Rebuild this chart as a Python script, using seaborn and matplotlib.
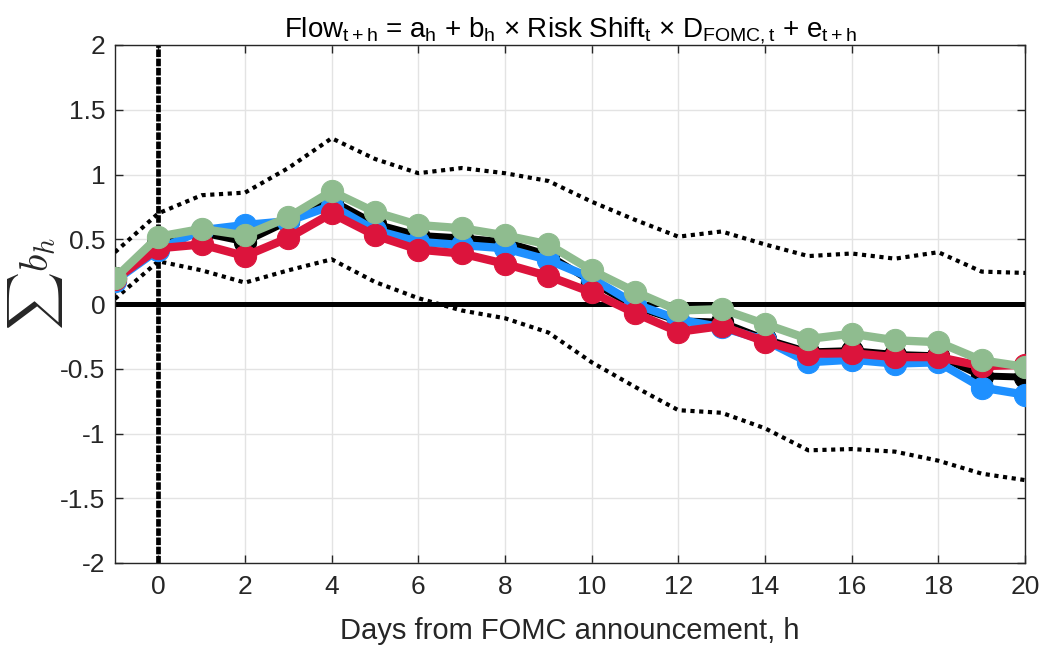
import numpy as np
import pandas as pd
import matplotlib
matplotlib.use("Agg")
import matplotlib.pyplot as plt
import seaborn as sns

# Horizon (days from FOMC announcement)
horizon = list(range(-1, 21))

# Cumulative coefficient paths for four specifications
coef_black = [0.20, 0.47, 0.55, 0.48, 0.64, 0.80, 0.62, 0.53, 0.51, 0.48, 0.38, 0.17,
              -0.02, -0.13, -0.14, -0.27, -0.37, -0.36, -0.39, -0.40, -0.555, -0.565]
coef_blue = [0.18, 0.42, 0.57, 0.61, 0.64, 0.76, 0.57, 0.48, 0.455, 0.43, 0.34, 0.20,
             0.00, -0.12, -0.18, -0.28, -0.45, -0.43, -0.46, -0.45, -0.645, -0.70]
coef_red = [0.19, 0.43, 0.46, 0.37, 0.51, 0.70, 0.53, 0.42, 0.39, 0.31, 0.215, 0.09,
            -0.07, -0.215, -0.17, -0.29, -0.385, -0.38, -0.41, -0.41, -0.48, -0.47]
coef_green = [0.20, 0.52, 0.58, 0.53, 0.67, 0.87, 0.71, 0.61, 0.585, 0.53, 0.46, 0.26,
              0.095, -0.05, -0.04, -0.155, -0.27, -0.23, -0.28, -0.295, -0.435, -0.485]

# Confidence band around the baseline path
band_upper = [0.40, 0.70, 0.84, 0.86, 1.05, 1.28, 1.12, 1.01, 1.05, 1.01, 0.95, 0.79,
              0.65, 0.52, 0.56, 0.46, 0.37, 0.39, 0.35, 0.40, 0.25, 0.24]
band_lower = [0.04, 0.33, 0.26, 0.165, 0.26, 0.345, 0.17, 0.045, -0.05, -0.11, -0.22, -0.45,
              -0.64, -0.82, -0.84, -0.96, -1.13, -1.12, -1.14, -1.21, -1.31, -1.36]

x_ticks = list(range(0, 21, 2))
y_ticks = [-2, -1.5, -1, -0.5, 0, 0.5, 1, 1.5, 2]
y_tick_labels = ["-2", "-1.5", "-1", "-0.5", "0", "0.5", "1", "1.5", "2"]

sns.set_theme(style="whitegrid")
plt.rcParams["font.family"] = ["Liberation Sans", "DejaVu Sans"]
plt.rcParams["mathtext.fontset"] = "custom"
plt.rcParams["mathtext.rm"] = "Liberation Sans"
plt.rcParams["mathtext.it"] = "Liberation Sans:italic"

fig = plt.figure(figsize=(10.42, 6.5), dpi=100)
ax = fig.add_axes([115 / 1042, 1 - 563 / 650, 910 / 1042, 518 / 650])
ax.set_facecolor("white")

df = pd.DataFrame({
    "h": horizon * 4,
    "coef": coef_black + coef_blue + coef_red + coef_green,
    "spec": (["black"] * len(horizon) + ["blue"] * len(horizon)
             + ["red"] * len(horizon) + ["green"] * len(horizon)),
})
styles = {
    "black": ("#000000", 5.0),
    "blue": ("#1E90FF", 6.0),
    "red": ("#DC143C", 6.0),
    "green": ("#8FBC8F", 6.0),
}

# Reference lines
ax.axhline(0, color="black", lw=3.6, zorder=2)
ax.axvline(0, color="black", lw=3.4, linestyle=(0, (1.6, 0.35)), zorder=2)

# Confidence band
band = pd.DataFrame({"h": horizon, "upper": band_upper, "lower": band_lower})
for col in ["upper", "lower"]:
    sns.lineplot(data=band, x="h", y=col, ax=ax, color="black", lw=3.0,
                 linestyle=(0, (1, 1.1)), zorder=3)

for i, spec in enumerate(["black", "blue", "red", "green"]):
    color, lw = styles[spec]
    sub = df[df["spec"] == spec]
    sns.lineplot(data=sub, x="h", y="coef", ax=ax, color=color, lw=lw,
                 marker="o", markersize=16, markeredgecolor=color,
                 zorder=4 + i)

ax.set_xlim(-1, 20)
ax.set_ylim(-2, 2)
ax.set_xticks(x_ticks)
ax.set_yticks(y_ticks)
ax.set_yticklabels(y_tick_labels)
ax.grid(True, color="#e3e3e3", lw=1.0)
ax.tick_params(axis="both", labelsize=19, colors="#262626", direction="in",
               length=6, width=1.0, left=True, bottom=True, right=True, top=True,
               labelright=False, labeltop=False)
ax.tick_params(axis="x", pad=9)
ax.tick_params(axis="y", pad=7)
for side in ["left", "right", "top", "bottom"]:
    ax.spines[side].set_visible(True)
    ax.spines[side].set_color("#262626")
    ax.spines[side].set_linewidth(1.0)

ax.set_xlabel("Days from FOMC announcement, h", fontsize=21, color="#262626")
ax.xaxis.set_label_coords(0.5, -0.105)
ax.set_ylabel(r"$\sum b_h$", fontsize=29, color="#262626", math_fontfamily="cm")
ax.yaxis.set_label_coords(-0.055, 0.54)
ax.set_title(r"Flow$_\mathrm{t+h}$ = a$_\mathrm{h}$ + b$_\mathrm{h}$ × Risk Shift$_\mathrm{t}$"
             r" × D$_\mathrm{FOMC,t}$ + e$_\mathrm{t+h}$",
             fontsize=20, color="black", pad=6)

fig.savefig("out.png", dpi=100)
